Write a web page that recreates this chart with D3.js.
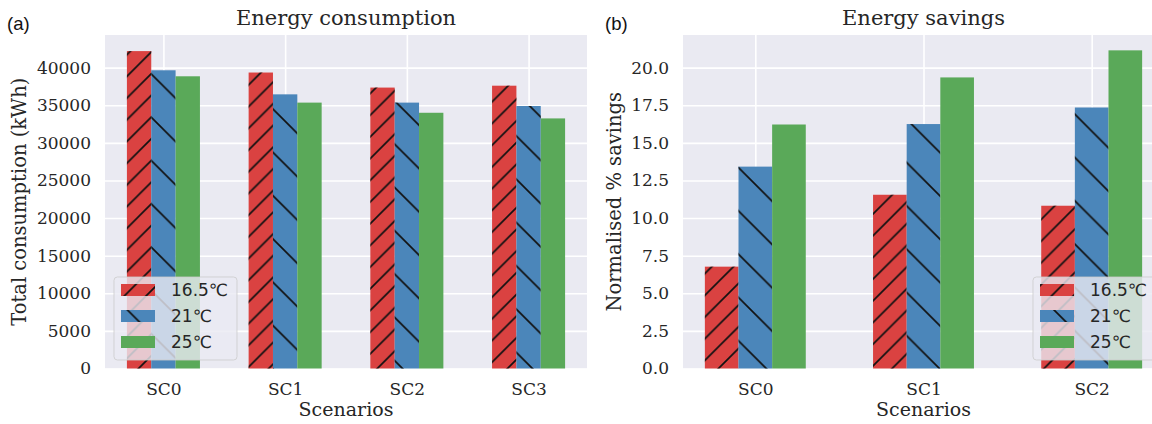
<!DOCTYPE html>
<html>
<head>
<meta charset="utf-8">
<script src="https://cdn.jsdelivr.net/npm/d3@7"></script>
<style>
  html, body { margin: 0; padding: 0; background: #ffffff; }
  svg { display: block; }
</style>
</head>
<body>
<svg id="chart" width="1152" height="424"></svg>
<script>
// ---------- data ----------
const seriesLabels = ["16.5\u2103", "21\u2103", "25\u2103"];
const consCategories = ["SC0", "SC1", "SC2", "SC3"];
const cons165 = [42200, 39350, 37350, 37600];
const cons21  = [39650, 36450, 35350, 34900];
const cons25  = [38850, 35350, 34000, 33250];
const consTicks = [0, 5000, 10000, 15000, 20000, 25000, 30000, 35000, 40000];

const savCategories = ["SC0", "SC1", "SC2"];
const sav165 = [6.77, 11.55, 10.82];
const sav21  = [13.42, 16.25, 17.35];
const sav25  = [16.22, 19.35, 21.15];
const savTicks = [0, 2.5, 5, 7.5, 10, 12.5, 15, 17.5, 20];

// ---------- style ----------
const colors = ["#da4241", "#4b86ba", "#5aa959"];
const hatchKinds = ["fwd", "back", null];
const serif = "'DejaVu Serif', serif";
const sans = "'DejaVu Sans', sans-serif";
const textColor = "#262626";

const svg = d3.select("#chart");
const defs = svg.append("defs");

function makePattern(id, kind, size, offset) {
  const p = defs.append("pattern")
    .attr("id", id)
    .attr("patternUnits", "userSpaceOnUse")
    .attr("width", size).attr("height", size)
    .attr("patternTransform", `translate(${offset},0)`);
  const s = size;
  let d;
  if (kind === "fwd") {
    d = `M0,${s} L${s},0 M${-s/2},${s/2} L${s/2},${-s/2} M${s/2},${s*1.5} L${s*1.5},${s/2}`;
  } else {
    d = `M0,0 L${s},${s} M${-s/2},${s/2} L${s/2},${s*1.5} M${s/2},${-s/2} L${s*1.5},${s/2}`;
  }
  p.append("path").attr("d", d)
    .attr("stroke", "#111").attr("stroke-width", 1.7).attr("fill", "none");
}
makePattern("hatchA0", "fwd", 21.7, 8);
makePattern("hatchA1", "back", 43.3, 34);
makePattern("hatchB0", "fwd", 21.7, 2);
makePattern("hatchB1", "back", 43.3, 8);

function panel(opts) {
  const { left, right, top, bottom, categories, series, ticks, yMax,
          tickFmt, title, ylabel, tag, tagX, legendX, hatchPrefix } = opts;
  const n = categories.length;
  const x = d3.scaleLinear().domain([-0.3 - 0.05 * (n - 1 + 0.6), n - 1 + 0.3 + 0.05 * (n - 1 + 0.6)])
    .range([left, right]);
  const y = d3.scaleLinear().domain([0, yMax]).range([bottom, top]);
  const g = svg.append("g");

  g.append("rect").attr("x", left).attr("y", top)
    .attr("width", right - left).attr("height", bottom - top)
    .attr("fill", "#eaeaf2");

  const yAxis = d3.axisLeft(y).tickValues(ticks).tickFormat(tickFmt)
    .tickSize(-(right - left)).tickPadding(14);
  const ya = g.append("g").attr("transform", `translate(${left},0)`).call(yAxis);
  ya.select(".domain").remove();
  ya.selectAll("line").attr("stroke", "#ffffff").attr("stroke-width", 1.6);
  ya.selectAll("text").style("font-family", serif).style("font-size", "17px").attr("fill", textColor);

  const xAxis = d3.axisBottom(x).tickValues(d3.range(n)).tickFormat(i => categories[i])
    .tickSize(-(bottom - top)).tickPadding(14.5);
  const xa = g.append("g").attr("transform", `translate(0,${bottom})`).call(xAxis);
  xa.select(".domain").remove();
  xa.selectAll("line").attr("stroke", "#ffffff").attr("stroke-width", 1.6);
  xa.selectAll("text").style("font-family", serif).style("font-size", "17px").attr("fill", textColor);

  const bw = 0.2;
  series.forEach((vals, si) => {
    const off = (si - 1) * bw;
    const bars = g.append("g");
    bars.selectAll("rect.fill").data(vals).join("rect").attr("class", "fill")
      .attr("x", (d, i) => x(i + off - bw / 2))
      .attr("width", (d, i) => x(i + off + bw / 2) - x(i + off - bw / 2))
      .attr("y", d => y(d)).attr("height", d => y(0) - y(d))
      .attr("fill", colors[si]);
    if (hatchKinds[si]) {
      bars.selectAll("rect.hatch").data(vals).join("rect").attr("class", "hatch")
        .attr("x", (d, i) => x(i + off - bw / 2))
        .attr("width", (d, i) => x(i + off + bw / 2) - x(i + off - bw / 2))
        .attr("y", d => y(d)).attr("height", d => y(0) - y(d))
        .attr("fill", `url(#${hatchPrefix}${si})`);
    }
  });

  const cx = (left + right) / 2;
  g.append("text").attr("x", cx).attr("y", 25).attr("text-anchor", "middle")
    .style("font-family", serif).style("font-size", "21px").attr("fill", textColor).text(title);
  g.append("text").attr("x", cx).attr("y", 416).attr("text-anchor", "middle")
    .style("font-family", serif).style("font-size", "19px").attr("fill", textColor).text("Scenarios");
  g.append("text")
    .attr("transform", `translate(${opts.ylabelX},${(top + bottom) / 2}) rotate(-90)`)
    .attr("text-anchor", "middle")
    .style("font-family", serif).style("font-size", "19.5px").attr("fill", textColor).text(ylabel);
  g.append("text").attr("x", tagX).attr("y", 29.5)
    .style("font-family", "'Liberation Sans', Arial, sans-serif").style("font-size", "18.5px")
    .attr("fill", "#111").text(tag);

  const lw = 123, lh = 83;
  const ly = bottom - 8.5 - lh;
  const lg = g.append("g");
  lg.append("rect").attr("x", legendX).attr("y", ly).attr("width", lw).attr("height", lh)
    .attr("rx", 3.4).attr("ry", 3.4)
    .attr("fill", "#eaeaf2").attr("fill-opacity", 0.8)
    .attr("stroke", "#cccccc").attr("stroke-opacity", 0.8).attr("stroke-width", 1);
  seriesLabels.forEach((lab, si) => {
    const rowY = ly + 13 + si * 26;
    lg.append("rect").attr("x", legendX + 7).attr("y", rowY - 6).attr("width", 34).attr("height", 12)
      .attr("fill", colors[si]);
    if (hatchKinds[si]) {
      lg.append("rect").attr("x", legendX + 7).attr("y", rowY - 6).attr("width", 34).attr("height", 12)
        .attr("fill", `url(#${hatchPrefix}${si})`);
    }
    lg.append("text").attr("x", legendX + 57).attr("y", rowY).attr("dy", "0.36em")
      .style("font-family", sans).style("font-size", "17px").attr("fill", textColor).text(lab);
  });
}

panel({
  left: 105, right: 587, top: 35, bottom: 368.5,
  categories: consCategories, series: [cons165, cons21, cons25],
  ticks: consTicks, yMax: 44340, tickFmt: d3.format("d"),
  title: "Energy consumption", ylabel: "Total consumption (kWh)",
  ylabelX: 26, tag: "(a)", tagX: 7, legendX: 114, hatchPrefix: "hatchA"
});
panel({
  left: 683, right: 1164, top: 35, bottom: 368.5,
  categories: savCategories, series: [sav165, sav21, sav25],
  ticks: savTicks, yMax: 22.17, tickFmt: d3.format(".1f"),
  title: "Energy savings", ylabel: "Normalised % savings",
  ylabelX: 621, tag: "(b)", tagX: 605, legendX: 1033, hatchPrefix: "hatchB"
});
</script>
</body>
</html>
